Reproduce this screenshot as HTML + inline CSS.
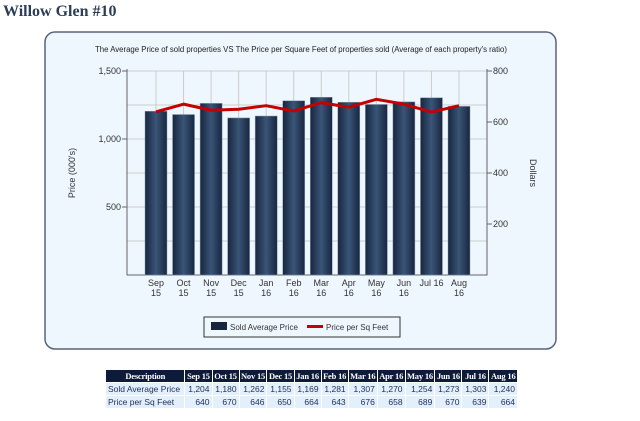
<!DOCTYPE html>
<html><head><meta charset="utf-8"><style>
body{margin:0;width:640px;height:421px;background:#fff;position:relative;overflow:hidden;font-family:"Liberation Sans",sans-serif}
#title{position:absolute;left:3px;top:3px;font:bold 16px "Liberation Serif",serif;color:#2b3e55}
#tbl{position:absolute;left:105px;top:369px;width:413px;border-collapse:collapse;font-size:8.5px;line-height:10px}
#tbl th{background:#0d1a3c;color:#fff;font:bold 8.5px "Liberation Serif",serif;padding:1px 1px;border:1px solid #fff;white-space:nowrap;letter-spacing:-0.2px}
#tbl td{background:#e3effb;color:#1c2f5a;padding:1px 2px;border:1px solid #fff;text-align:right;white-space:nowrap}
#tbl td:first-child{text-align:left}
</style></head><body>
<div id="title">Willow Glen #10</div>
<svg id="chart" width="640" height="360" style="position:absolute;left:0;top:0">
<defs><linearGradient id="bg" x1="0" x2="1"><stop offset="0" stop-color="#17263f"/><stop offset="0.5" stop-color="#3a5577"/><stop offset="1" stop-color="#17263f"/></linearGradient></defs>
<rect x="45" y="32" width="511" height="317" rx="10" fill="#eef7fe" stroke="#5a6478" stroke-width="1.5"/>
<text x="301" y="52" font-size="7.8" text-anchor="middle" fill="#222">The Average Price of sold properties VS The Price per Square Feet of properties sold (Average of each property's ratio)</text>
<g id="g"></g>
<text transform="translate(75,173) rotate(-90)" font-size="9" text-anchor="middle" fill="#333">Price (000's)</text>
<text transform="translate(530,173) rotate(90)" font-size="9" text-anchor="middle" fill="#333">Dollars</text>
<g>
<rect x="204" y="317" width="196" height="20" fill="#eef7fe" stroke="#333"/>
<rect x="211" y="322" width="16" height="8" fill="#17263f"/>
<text x="230" y="330" font-size="8" fill="#333">Sold Average Price</text>
<rect x="307" y="325" width="16" height="3" fill="#c40000"/>
<text x="326" y="330" font-size="8" fill="#333">Price per Sq Feet</text>
</g>
</svg>
<table id="tbl">
<tr><th>Description</th><th>Sep 15</th><th>Oct 15</th><th>Nov 15</th><th>Dec 15</th><th>Jan 16</th><th>Feb 16</th><th>Mar 16</th><th>Apr 16</th><th>May 16</th><th>Jun 16</th><th>Jul 16</th><th>Aug 16</th></tr>
<tr><td>Sold Average Price</td><td>1,204</td><td>1,180</td><td>1,262</td><td>1,155</td><td>1,169</td><td>1,281</td><td>1,307</td><td>1,270</td><td>1,254</td><td>1,273</td><td>1,303</td><td>1,240</td></tr>
<tr><td>Price per Sq Feet</td><td>640</td><td>670</td><td>646</td><td>650</td><td>664</td><td>643</td><td>676</td><td>658</td><td>689</td><td>670</td><td>639</td><td>664</td></tr>
</table>
<script>
const categories=[["Sep","15"],["Oct","15"],["Nov","15"],["Dec","15"],["Jan","16"],["Feb","16"],["Mar","16"],["Apr","16"],["May","16"],["Jun","16"],["Jul 16",""],["Aug","16"]];
const priceValues=[1204,1180,1262,1155,1169,1281,1307,1270,1254,1273,1303,1240];
const sqftValues=[640,670,646,650,664,643,676,658,689,670,639,664];
const leftTicks=[500,1000,1500];
const rightTicks=[200,400,600,800];
const NS="http://www.w3.org/2000/svg",g=document.getElementById('g');
const X0=127,X1=487,Y0=275,Y1=71;
const yL=v=>Y0-(v/1500)*(Y0-Y1), yR=v=>Y0-(v/800)*(Y0-Y1);
const xC=i=>156+i*(459-156)/(categories.length-1);
function el(t,a){const e=document.createElementNS(NS,t);for(const k in a)e.setAttribute(k,a[k]);g.appendChild(e);return e;}
for(let v=250;v<=1500;v+=250){const l=el('line',{x1:X0,x2:X1,y1:yL(v),y2:yL(v),stroke:'#ccc','stroke-width':1});

}
categories.forEach((c,i)=>{const l=el('line',{x1:xC(i),x2:xC(i),y1:Y1,y2:Y0,stroke:'#ccc','stroke-width':1});

});
const ax=el('path',{d:`M${X0} ${Y1-2}V${Y0}H${X1}V${Y1-2}`,stroke:'#666',fill:'none'});


leftTicks.forEach(v=>{el('line',{x1:X0-5,x2:X0,y1:yL(v),y2:yL(v),stroke:'#666'});
const t=el('text',{x:X0-6,y:yL(v)+3,'font-size':9,'text-anchor':'end',fill:'#333'});t.textContent=v.toLocaleString('en-US');

});
rightTicks.forEach(v=>{el('line',{x1:X1,x2:X1+5,y1:yR(v),y2:yR(v),stroke:'#666'});
const t=el('text',{x:X1+6,y:yR(v)+3,'font-size':9,fill:'#333'});t.textContent=v;

});
priceValues.forEach((v,i)=>{const b=el('rect',{x:xC(i)-11,y:yL(v),width:22,height:Y0-yL(v),fill:'url(#bg)',stroke:'#8a9ab0','stroke-width':0.5});

});
categories.forEach((c,i)=>{const t=el('text',{x:xC(i),y:Y0+11,'font-size':9,'text-anchor':'middle',fill:'#333'});t.textContent=c[0];


if(c[1]){const t2=el('text',{x:xC(i),y:Y0+21,'font-size':9,'text-anchor':'middle',fill:'#333'});t2.textContent=c[1];

}});
const line=el('polyline',{points:sqftValues.map((v,i)=>xC(i)+','+yR(v)).join(' '),fill:'none',stroke:'#c40000','stroke-width':3,'stroke-linejoin':'round'});


</script>
</body></html>
